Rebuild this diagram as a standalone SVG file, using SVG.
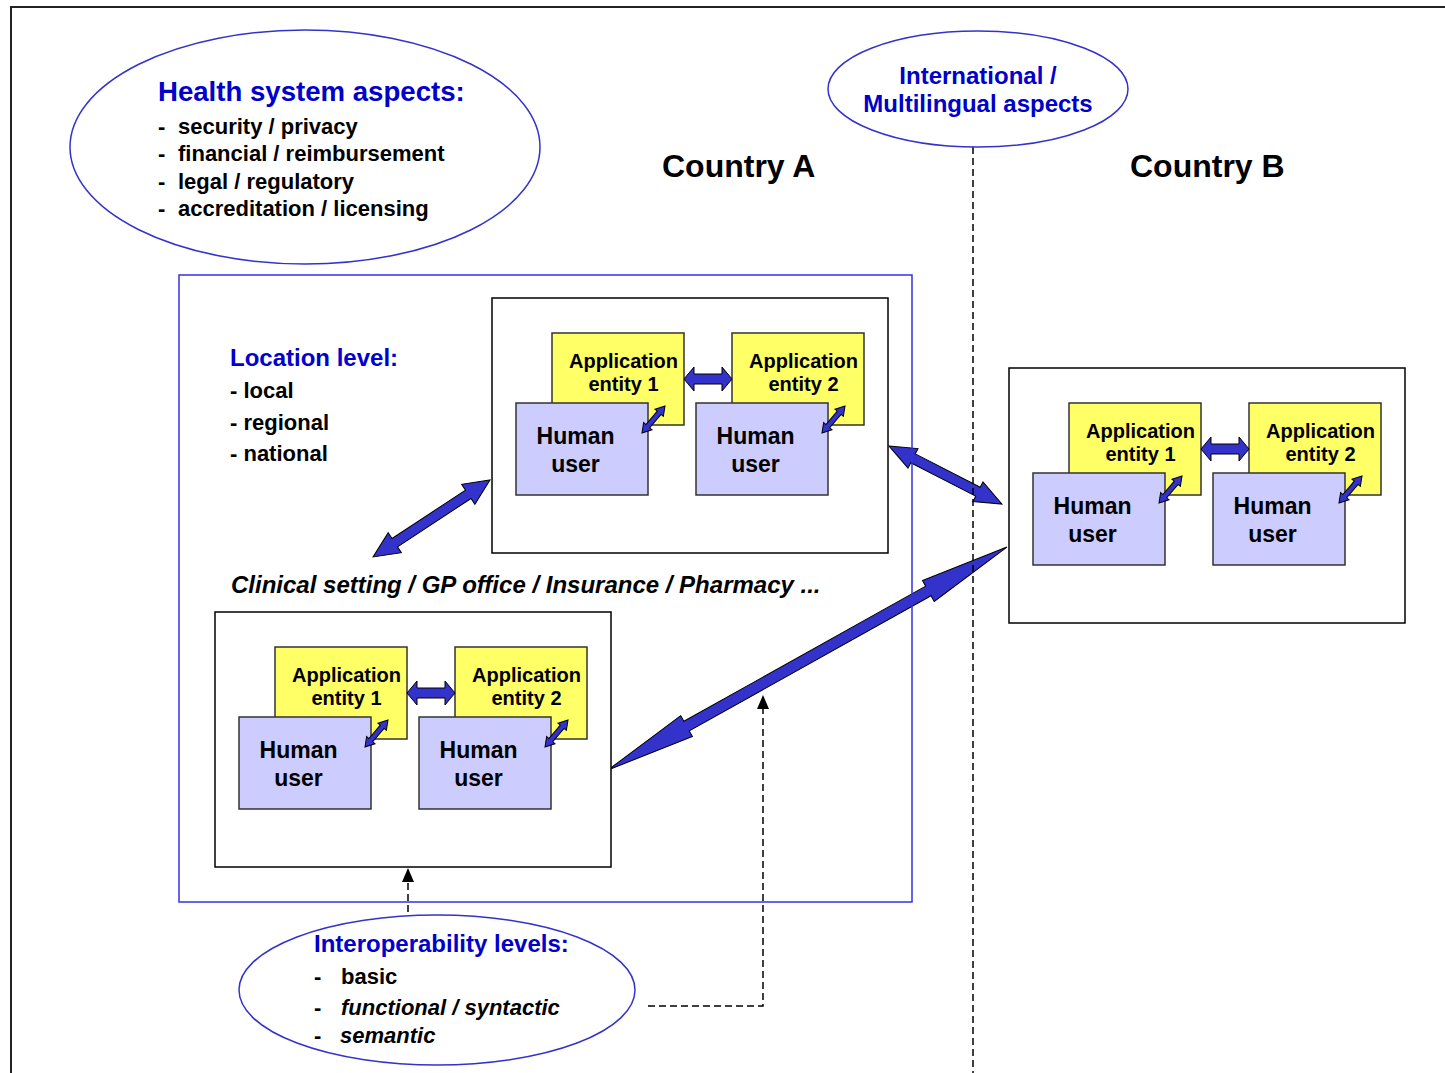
<svg xmlns="http://www.w3.org/2000/svg" width="1445" height="1073" viewBox="0 0 1445 1073">
  <style>
    text { font-family: "Liberation Sans", Arial, sans-serif; font-weight: bold; }
    .blue { fill: #0000cc; }
    .blk { fill: #000; }
    .it { font-style: italic; }
    .oval { fill: #fff; stroke: #3333cc; stroke-width: 1.5; }
    .box { fill: #fff; stroke: #000; stroke-width: 1.5; }
    .app { fill: #ffff66; stroke: #333; stroke-width: 1.5; }
    .hum { fill: #ccccff; stroke: #333; stroke-width: 1.5; }
    .barrow { fill: #3333cc; stroke: #000; stroke-width: 1; stroke-linejoin: miter; }
    .dash { fill: none; stroke: #000; stroke-width: 1.5; stroke-dasharray: 7 4; }
    .app-t { font-size: 20px; text-anchor: middle; }
    .hum-t { font-size: 23px; text-anchor: middle; }
  </style>
  <defs>
    <!-- double-headed block arrows, drawn along +x from the origin -->
    <polygon id="hArrow" class="barrow" points="0,0 10,-12 10,-5 38,-5 38,-12 48,0 38,12 38,5 10,5 10,12"/>
    <polygon id="dArrow" class="barrow" points="0,0 9,-5.5 9,-2.5 26.5,-2.5 26.5,-5.5 35.5,0 26.5,5.5 26.5,2.5 9,2.5 9,5.5"/>
  </defs>

  <rect width="1445" height="1073" fill="#fff"/>
  <!-- page frame -->
  <polyline points="11,1073 11,7 1445,7" fill="none" stroke="#222" stroke-width="2"/>

  <!-- links between settings -->
  <g id="connectors">
    <polygon class="barrow" transform="translate(490,480) rotate(146.65)" points="0,0 26,-12 26,-5 114,-5 114,-12 140,0 114,12 114,5 26,5 26,12"/>
    <polygon class="barrow" transform="translate(889,446) rotate(27.2)" points="0,0 27,-11 27,-5 100,-5 100,-11 127,0 100,11 100,5 27,5 27,11"/>
    <polygon class="barrow" transform="translate(608,770) rotate(-29.2)" points="0,0 90,-12 90,-5.5 367,-5.5 367,-12 457,0 367,12 367,5.5 90,5.5 90,12"/>
    <line class="dash" x1="408" y1="912" x2="408" y2="881"/>
    <polygon points="408,868 402,882 414,882" fill="#000"/>
    <polyline class="dash" points="648,1006 763,1006 763,708"/>
    <polygon points="763,695 757,709 769,709" fill="#000"/>
  </g>

  <!-- Country A container -->
  <rect id="countryA-area" x="179" y="275" width="733" height="627" fill="none" stroke="#3333dd" stroke-width="1.5"/>
  <!-- border between countries -->
  <line class="dash" x1="973" y1="147" x2="973" y2="1073"/>

  <g id="health-aspects">
    <ellipse class="oval" cx="305" cy="147" rx="235" ry="117"/>
    <text class="blue" x="158" y="101" font-size="27.6">Health system aspects:</text>
    <g class="blk" font-size="22">
      <text x="158" y="134">-</text><text x="178" y="134">security / privacy</text>
      <text x="158" y="161">-</text><text x="178" y="161">financial / reimbursement</text>
      <text x="158" y="189">-</text><text x="178" y="189">legal / regulatory</text>
      <text x="158" y="216">-</text><text x="178" y="216">accreditation / licensing</text>
    </g>
  </g>

  <g id="international">
    <ellipse class="oval" cx="978" cy="89" rx="150" ry="58"/>
    <text class="blue" x="978" y="84" font-size="24" text-anchor="middle">International /</text>
    <text class="blue" x="978" y="112" font-size="24" text-anchor="middle">Multilingual aspects</text>
  </g>

  <text id="label-country-a" class="blk" x="662" y="177" font-size="32">Country A</text>
  <text id="label-country-b" class="blk" x="1130" y="177" font-size="32">Country B</text>

  <g id="location-level">
    <text class="blue" x="230" y="366" font-size="24">Location level:</text>
    <g class="blk" font-size="22">
      <text x="230" y="398">- local</text>
      <text x="230" y="430">- regional</text>
      <text x="230" y="461">- national</text>
    </g>
  </g>

  <text id="label-settings" class="blk it" x="231" y="593" font-size="24">Clinical setting / GP office / Insurance / Pharmacy ...</text>

  <!-- setting A1 (upper) -->
  <g id="setting-a1" transform="translate(492,298)">
    <rect class="box" x="0" y="0" width="396" height="255"/>
    <g id="a1-app1"><rect class="app" x="60" y="35" width="132" height="92"/>
      <text class="app-t" x="131.5" y="70">Application</text><text class="app-t" x="131.5" y="93">entity 1</text></g>
    <g id="a1-app2"><rect class="app" x="240" y="35" width="132" height="92"/>
      <text class="app-t" x="311.5" y="70">Application</text><text class="app-t" x="311.5" y="93">entity 2</text></g>
    <g id="a1-user1"><rect class="hum" x="24" y="105" width="132" height="92"/>
      <text class="hum-t" x="83.5" y="146">Human</text><text class="hum-t" x="83.5" y="174">user</text></g>
    <g id="a1-user2"><rect class="hum" x="204" y="105" width="132" height="92"/>
      <text class="hum-t" x="263.5" y="146">Human</text><text class="hum-t" x="263.5" y="174">user</text></g>
    <use href="#hArrow" transform="translate(192,81)"/>
    <use href="#dArrow" transform="translate(150,135) rotate(-49.6)"/>
    <use href="#dArrow" transform="translate(330,135) rotate(-49.6)"/>
  </g>

  <!-- setting A2 (lower) -->
  <g id="setting-a2" transform="translate(215,612)">
    <rect class="box" x="0" y="0" width="396" height="255"/>
    <g id="a2-app1"><rect class="app" x="60" y="35" width="132" height="92"/>
      <text class="app-t" x="131.5" y="70">Application</text><text class="app-t" x="131.5" y="93">entity 1</text></g>
    <g id="a2-app2"><rect class="app" x="240" y="35" width="132" height="92"/>
      <text class="app-t" x="311.5" y="70">Application</text><text class="app-t" x="311.5" y="93">entity 2</text></g>
    <g id="a2-user1"><rect class="hum" x="24" y="105" width="132" height="92"/>
      <text class="hum-t" x="83.5" y="146">Human</text><text class="hum-t" x="83.5" y="174">user</text></g>
    <g id="a2-user2"><rect class="hum" x="204" y="105" width="132" height="92"/>
      <text class="hum-t" x="263.5" y="146">Human</text><text class="hum-t" x="263.5" y="174">user</text></g>
    <use href="#hArrow" transform="translate(192,81)"/>
    <use href="#dArrow" transform="translate(150,135) rotate(-49.6)"/>
    <use href="#dArrow" transform="translate(330,135) rotate(-49.6)"/>
  </g>

  <!-- setting B -->
  <g id="setting-b" transform="translate(1009,368)">
    <rect class="box" x="0" y="0" width="396" height="255"/>
    <g id="b-app1"><rect class="app" x="60" y="35" width="132" height="92"/>
      <text class="app-t" x="131.5" y="70">Application</text><text class="app-t" x="131.5" y="93">entity 1</text></g>
    <g id="b-app2"><rect class="app" x="240" y="35" width="132" height="92"/>
      <text class="app-t" x="311.5" y="70">Application</text><text class="app-t" x="311.5" y="93">entity 2</text></g>
    <g id="b-user1"><rect class="hum" x="24" y="105" width="132" height="92"/>
      <text class="hum-t" x="83.5" y="146">Human</text><text class="hum-t" x="83.5" y="174">user</text></g>
    <g id="b-user2"><rect class="hum" x="204" y="105" width="132" height="92"/>
      <text class="hum-t" x="263.5" y="146">Human</text><text class="hum-t" x="263.5" y="174">user</text></g>
    <use href="#hArrow" transform="translate(192,81)"/>
    <use href="#dArrow" transform="translate(150,135) rotate(-49.6)"/>
    <use href="#dArrow" transform="translate(330,135) rotate(-49.6)"/>
  </g>

  <g id="interoperability">
    <ellipse class="oval" cx="437" cy="990" rx="198" ry="75"/>
    <text class="blue" x="314" y="952" font-size="24">Interoperability levels:</text>
    <g class="blk" font-size="22">
      <text x="314" y="984">-</text><text x="341" y="984">basic</text>
      <text x="314" y="1015">-</text><text class="it" x="341" y="1015">functional / syntactic</text>
      <text x="314" y="1043">-</text><text class="it" x="340" y="1043">semantic</text>
    </g>
  </g>
</svg>
